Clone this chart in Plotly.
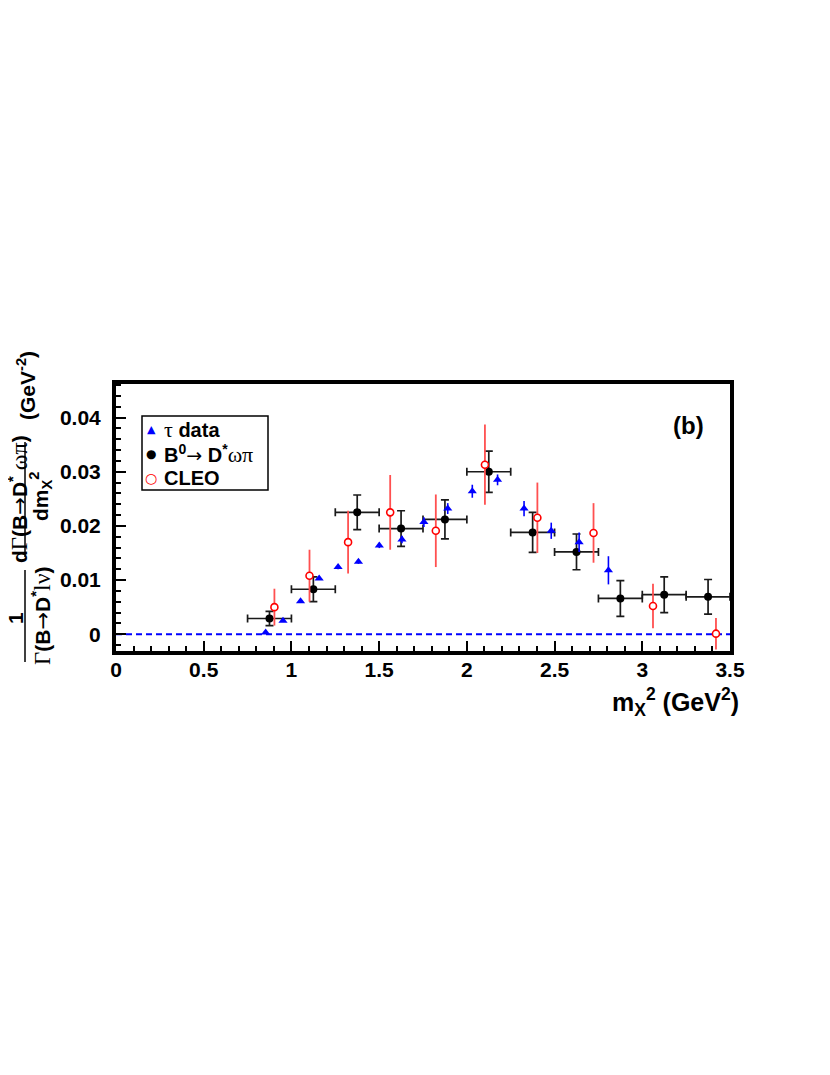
import plotly.graph_objects as go

# ---------------- data ----------------
tau_x = [0.853, 0.952, 1.052, 1.158, 1.266, 1.382, 1.501, 1.630, 1.755, 1.891,
         2.031, 2.175, 2.326, 2.481, 2.640, 2.807]
tau_y = [0.0003, 0.0025, 0.0061, 0.0103, 0.0124, 0.0134, 0.0164, 0.0175, 0.0207, 0.0232,
         0.0264, 0.0285, 0.0232, 0.0191, 0.0170, 0.0118]
tau_err = [0.0002, 0.0002, 0.0003, 0.0003, 0.0004, 0.0004, 0.0005, 0.0007, 0.0009, 0.0010,
           0.0012, 0.0010, 0.0014, 0.0015, 0.0018, 0.0026]

bwp_x = [0.875, 1.125, 1.375, 1.625, 1.875, 2.125, 2.375, 2.625, 2.875, 3.125, 3.375]
bwp_xerr = [0.125, 0.125, 0.125, 0.125, 0.125, 0.125, 0.125, 0.125, 0.125, 0.125, 0.125]
bwp_y = [0.0029, 0.0083, 0.0225, 0.0195, 0.0212, 0.0300, 0.0188, 0.0152, 0.0066, 0.0073, 0.0069]
bwp_err = [0.0013, 0.0023, 0.0032, 0.0033, 0.0036, 0.0038, 0.0037, 0.0033, 0.0033, 0.0033, 0.0032]

cleo_x = [0.903, 1.103, 1.323, 1.563, 1.823, 2.103, 2.402, 2.722, 3.061, 3.420]
cleo_y = [0.0050, 0.0108, 0.0170, 0.0225, 0.0191, 0.0313, 0.0215, 0.0187, 0.0052, 0.0001]
cleo_err = [0.0034, 0.0048, 0.0058, 0.0069, 0.0067, 0.0074, 0.0065, 0.0055, 0.0041, 0.0029]

x_tickvals = [0, 0.5, 1, 1.5, 2, 2.5, 3, 3.5]
x_ticktext = ["0", "0.5", "1", "1.5", "2", "2.5", "3", "3.5"]
y_tickvals = [0, 0.01, 0.02, 0.03, 0.04]
y_ticktext = ["0", "0.01", "0.02", "0.03", "0.04"]
x_range = [0, 3.5]
y_range = [-0.0031, 0.0462]

# ---------------- layout geometry ----------------
OFF = 8                      # default page body margin
W, H = 830 - 2 * OFF, 1075 - 2 * OFF
ML, MT = 116 - OFF, 384 - OFF
PW, PH = 614, 267
MR, MB = W - ML - PW, H - MT - PH


def px(xp):
    return (xp - OFF - ML) / PW


def py(yp):
    return (H - MB - (yp - OFF)) / PH


SANS = "Liberation Sans"
SERIF = "Liberation Serif"


def S(t, size):
    return ("<span style='font-family:%s;font-weight:normal;font-size:%dpx'>%s</span>"
            % (SERIF, size, t))


def ARROW(size):
    return ("<span style='font-family:DejaVu Sans;font-weight:normal;font-size:%dpx'>→</span>"
            % size)


fig = go.Figure()

fig.add_shape(type="line", xref="paper", yref="y", x0=0, x1=1, y0=0, y1=0,
              line=dict(color="#0000ff", width=2, dash="6px,4px"), layer="below")

fig.add_trace(go.Scatter(
    x=bwp_x, y=bwp_y, mode="markers",
    marker=dict(symbol="circle", size=8, color="black"),
    error_x=dict(type="data", array=bwp_xerr, color="#1a1a1a", thickness=1.7, width=4),
    error_y=dict(type="data", array=bwp_err, color="#1a1a1a", thickness=1.7, width=4),
    showlegend=False))

fig.add_trace(go.Scatter(
    x=tau_x, y=tau_y, mode="markers",
    marker=dict(symbol="triangle-up", size=8, color="#0000ff"),
    error_y=dict(type="data", array=tau_err, color="#0000ff", thickness=1.6, width=0),
    showlegend=False))

fig.add_trace(go.Scatter(
    x=cleo_x, y=cleo_y, mode="markers",
    marker=dict(symbol="circle", size=7, color="white", line=dict(color="#ff0000", width=1.6)),
    error_y=dict(type="data", array=cleo_err, color="#ff5050", thickness=1.8, width=0),
    showlegend=False))

axis_common = dict(showline=True, linewidth=4, linecolor="black", mirror=True,
                   ticks="inside", tickcolor="black", tickwidth=1.5,
                   showgrid=False, zeroline=False,
                   tickfont=dict(family=SANS, size=21, color="black", weight="bold"))

fig.update_xaxes(range=x_range, tickvals=x_tickvals, ticktext=x_ticktext, ticklen=10,
                 ticklabelstandoff=-3,
                 minor=dict(ticks="inside", ticklen=5, dtick=0.1, tickwidth=1.5, tickcolor="black"),
                 **axis_common)
fig.update_yaxes(range=y_range, tickvals=y_tickvals, ticktext=y_ticktext, ticklen=10,
                 ticklabelstandoff=7,
                 minor=dict(ticks="inside", ticklen=5, dtick=0.002, tickwidth=1.5, tickcolor="black"),
                 **axis_common)

annotations = []
bold = dict(family=SANS, color="black", weight="bold")

# panel label
annotations.append(dict(x=px(688), y=py(425), xref="paper", yref="paper", text="(b)",
                        xanchor="center", yanchor="middle",
                        showarrow=False, font=dict(size=24, **bold)))

# x title
annotations.append(dict(x=px(741), y=py(702), xref="paper", yref="paper", xanchor="right",
                        yanchor="middle", showarrow=False,
                        text="m<sub>X</sub><sup>2</sup> (GeV<sup>2</sup>)",
                        font=dict(size=25, **bold)))

# y title pieces (rotated)
ytitle = [
    (26, 386, "(GeV<sup>-2</sup>)"),
    (18, 499, "d" + S("Γ", 23) + "(B" + ARROW(21) + "D<sup>*</sup>" + S(" ωπ", 24) + ")"),
    (40, 497, "dm<sub>X</sub><sup>2</sup>"),
    (15, 618, "1"),
    (41, 616, S("Γ", 23) + "(B" + ARROW(21) + "D<sup>*</sup>" + S("lν", 24) + ")"),
]
for xp, yp, t in ytitle:
    annotations.append(dict(x=px(xp), y=py(yp), xref="paper", yref="paper", text=t,
                            textangle=-90, showarrow=False, xanchor="center", yanchor="middle",
                            font=dict(size=21, **bold)))

shapes = [
    dict(type="line", xref="paper", yref="paper", x0=px(25), x1=px(25), y0=py(442), y1=py(557),
         line=dict(color="black", width=1.5)),
    dict(type="line", xref="paper", yref="paper", x0=px(25), x1=px(25), y0=py(570), y1=py(662),
         line=dict(color="black", width=1.5)),
    # legend box
    dict(type="rect", xref="paper", yref="paper", x0=px(142), x1=px(268), y0=py(490), y1=py(416),
         line=dict(color="black", width=1.5), fillcolor="white", layer="above"),
]

# legend entries
legend_items = [
    (429, "▲", "#0000ff", 11, S("τ", 22) + " data"),
    (454, "●", "black", 12, "B<sup>0</sup>" + ARROW(19) + " D<sup>*</sup>" + S("ωπ", 22)),
    (478, "○", "#ff0000", 14, "CLEO"),
]
for yp, sym, col, ssz, txt in legend_items:
    annotations.append(dict(x=px(151), y=py(yp), xref="paper", yref="paper", text=sym,
                            showarrow=False, xanchor="center", yanchor="middle",
                            font=dict(family="DejaVu Sans", size=ssz, color=col, weight="bold")))
    annotations.append(dict(x=px(162), y=py(yp), xref="paper", yref="paper", text=txt,
                            showarrow=False, xanchor="left", yanchor="middle",
                            font=dict(size=20, **bold)))

fig.update_layout(width=W, height=H, margin=dict(l=ML, r=MR, t=MT, b=MB),
                  plot_bgcolor="white", paper_bgcolor="white",
                  annotations=annotations, shapes=fig.layout.shapes + tuple(shapes),
                  showlegend=False)

fig.write_html("out.html")
